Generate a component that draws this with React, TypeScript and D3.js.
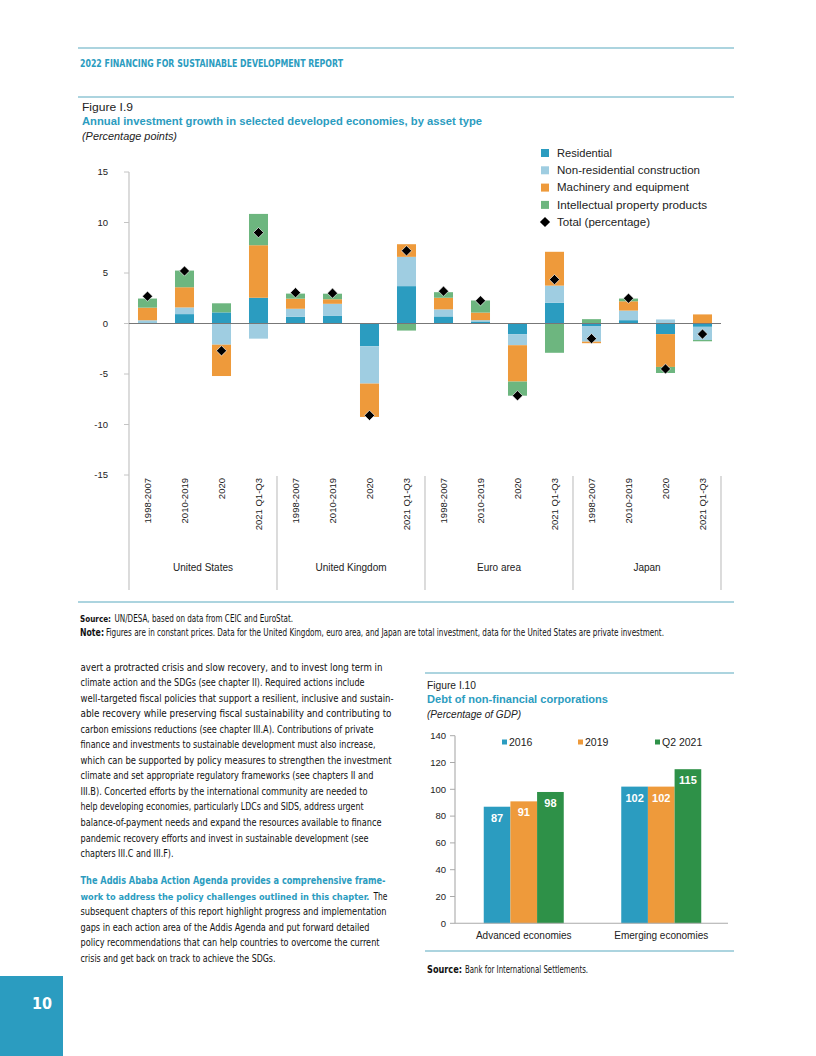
import * as React from 'react';
import * as d3 from 'd3';

// Figure I.9 data
const assetTypes = ['Residential', 'Non-residential construction', 'Machinery and equipment', 'Intellectual property products'];
const economies = ['United States', 'United Kingdom', 'Euro area', 'Japan'];
const periods = ['1998-2007', '2010-2019', '2020', '2021 Q1-Q3'];
const residential = [0.1, 0.93, 1.1, 2.55, 0.66, 0.75, -2.25, 3.7, 0.7, 0.2, -1.05, 2.05, -0.25, 0.33, -1.05, -0.33];
const nonResidential = [0.22, 0.66, -2.1, -1.5, 0.8, 1.2, -3.7, 2.9, 0.7, 0.13, -1.1, 1.7, -1.55, 0.95, 0.4, -1.3];
const machinery = [1.25, 2.0, -3.1, 5.2, 1.0, 0.45, -3.3, 1.25, 1.15, 0.75, -3.6, 3.35, -0.15, 0.92, -3.25, 0.9];
const ipp = [0.9, 1.65, 0.9, 3.1, 0.5, 0.55, 0, -0.7, 0.55, 1.2, -1.4, -2.9, 0.43, 0.27, -0.6, -0.13];
const total = [2.7, 5.2, -2.7, 9.0, 3.05, 3.0, -9.1, 7.2, 3.2, 2.25, -7.15, 4.35, -1.5, 2.5, -4.5, -1.05];
const yTicks1 = [15, 10, 5, 0, -5, -10, -15];

// Figure I.10 data
const groups2 = ['Advanced economies', 'Emerging economies'];
const years2 = ['2016', '2019', 'Q2 2021'];
const debt2016 = [87, 102];
const debt2019 = [91, 102];
const debtQ22021 = [98, 115];
const yTicks2 = [0, 20, 40, 60, 80, 100, 120, 140];

const bodyPara1: [string, number][] = [
  ['avert a protracted crisis and slow recovery, and to invest long term in', 302],
  ['climate action and the SDGs (see chapter II). Required actions include', 284],
  ['well-targeted fiscal policies that support a resilient, inclusive and sustain-', 313],
  ['able recovery while preserving fiscal sustainability and contributing to', 311],
  ['carbon emissions reductions (see chapter III.A). Contributions of private', 293],
  ['finance and investments to sustainable development must also increase,', 295],
  ['which can be supported by policy measures to strengthen the investment', 311],
  ['climate and set appropriate regulatory frameworks (see chapters II and', 293],
  ['III.B). Concerted efforts by the international community are needed to', 287],
  ['help developing economies, particularly LDCs and SIDS, address urgent', 283],
  ['balance-of-payment needs and expand the resources available to finance', 301],
  ['pandemic recovery efforts and invest in sustainable development (see', 288],
  ['chapters III.C and III.F).', 93],
];
const bodyPara2: [string, number][] = [
  ['subsequent chapters of this report highlight progress and implementation', 306],
  ['gaps in each action area of the Addis Agenda and put forward detailed', 289],
  ['policy recommendations that can help countries to overcome the current', 299],
  ['crisis and get back on track to achieve the SDGs.', 195],
];

const colors1 = ['#2b9cc0', '#9fcde1', '#ee9a3b', '#6db67f'];
const colors2 = ['#2b9cc0', '#ee9a3b', '#2e9148'];
const teal = '#2b9cc0';
const rule = '#5ba9c0';
const narrow = '"Liberation Sans Narrow", "DejaVu Sans Condensed", sans-serif';
const sans = '"Liberation Sans", Arial, sans-serif';

function T(props: any) {
  const { w, children, ...rest } = props;
  return (
    <text textLength={w} lengthAdjust={w ? 'spacingAndGlyphs' : undefined} {...rest}>
      {children}
    </text>
  );
}

function InvestmentChart() {
  const keys = economies.flatMap((e) => periods.map((p) => `${e}|${p}`));
  const rows = keys.map((k, i) => ({
    key: k,
    [assetTypes[0]]: residential[i],
    [assetTypes[1]]: nonResidential[i],
    [assetTypes[2]]: machinery[i],
    [assetTypes[3]]: ipp[i],
  }));
  const series = d3.stack<any>().keys(assetTypes).offset(d3.stackOffsetDiverging)(rows);

  const x = d3.scaleBand().domain(keys).range([129, 721]).paddingInner(0.486).paddingOuter(0.243);
  const y = d3.scaleLinear().domain([-15, 15]).range([475, 172]);
  const groupX = d3.scaleBand().domain(economies).range([129, 721]);
  const diamond = d3.symbol().type(d3.symbolSquare).size(52)()!;

  return (
    <g>
      {/* axis */}
      <line x1={129} x2={129} y1={y(15)} y2={590} stroke="#c4c4c4" strokeWidth={1.2} />
      {yTicks1.map((t) => (
        <g key={t} transform={`translate(0,${y(t)})`}>
          <line x1={124} x2={129} stroke="#c4c4c4" />
          <text x={108} dy="0.35em" textAnchor="end" fontSize={9.5} fontFamily={sans} fill="#222">{t}</text>
        </g>
      ))}
      {economies.map((e) => (
        <g key={e}>
          <line x1={groupX(e)! + groupX.bandwidth()} x2={groupX(e)! + groupX.bandwidth()} y1={476} y2={590} stroke="#c4c4c4" strokeWidth={1.2} />
          <text x={groupX(e)! + groupX.bandwidth() / 2} y={571} textAnchor="middle" fontSize={10} fontFamily={sans} fill="#222">{e}</text>
        </g>
      ))}
      {keys.map((k) => (
        <text key={k} transform={`translate(${x(k)! + x.bandwidth() / 2 + 3.5},478) rotate(-90)`} textAnchor="end" fontSize={9.5} fontFamily={sans} fill="#222">
          {k.split('|')[1]}
        </text>
      ))}

      {/* bars */}
      {series.map((s, si) => (
        <g key={s.key} fill={colors1[si]}>
          {s.map((d: any, i: number) => (
            <rect key={i} x={x(keys[i])} width={x.bandwidth()} y={y(Math.max(d[0], d[1]))} height={Math.abs(y(d[0]) - y(d[1]))} />
          ))}
        </g>
      ))}
      <line x1={129} x2={721} y1={y(0)} y2={y(0)} stroke="#777" strokeWidth={1} />
      {total.map((v, i) => (
        <path key={i} d={diamond} transform={`translate(${x(keys[i])! + x.bandwidth() / 2},${y(v)}) rotate(45)`} fill="#000" stroke="#fff" strokeWidth={0.6} />
      ))}

      {/* legend */}
      {assetTypes.map((a, i) => (
        <g key={a} transform={`translate(541,${153 + i * 17.3})`}>
          <rect x={0} y={-4} width={8} height={8} fill={colors1[i]} />
          <T x={16} dy="0.35em" fontSize={10.5} fontFamily={sans} fill="#222" w={[55, 143, 132, 150][i]}>{a}</T>
        </g>
      ))}
      <g transform={`translate(545,222)`}>
        <path d={diamond} transform="rotate(45)" fill="#000" />
        <T x={12} dy="0.35em" fontSize={10.5} fontFamily={sans} fill="#222" w={93}>Total (percentage)</T>
      </g>
    </g>
  );
}

function DebtChart() {
  const values = [debt2016, debt2019, debtQ22021];
  const x0 = d3.scaleBand().domain(groups2).range([455, 730]);
  const inner = 80;
  const x1 = d3.scaleBand().domain(years2).range([(x0.bandwidth() - inner) / 2, (x0.bandwidth() + inner) / 2]);
  const y = d3.scaleLinear().domain([0, 140]).range([923.3, 735.7]);

  return (
    <g>
      <line x1={455} x2={455} y1={y(140)} y2={y(0)} stroke="#aaa" strokeWidth={1.1} />
      {yTicks2.map((t) => (
        <g key={t} transform={`translate(0,${y(t)})`}>
          <line x1={450} x2={455} stroke="#aaa" />
          <text x={446} dy="0.35em" textAnchor="end" fontSize={9.5} fontFamily={sans} fill="#222">{t}</text>
        </g>
      ))}
      {groups2.map((g, gi) => (
        <g key={g} transform={`translate(${x0(g)},0)`}>
          {years2.map((yr, yi) => {
            const v = values[yi][gi];
            return (
              <g key={yr}>
                <rect x={x1(yr)} width={x1.bandwidth()} y={y(v)} height={y(0) - y(v)} fill={colors2[yi]} />
                <text x={x1(yr)! + x1.bandwidth() / 2} y={y(v) + 15} textAnchor="middle" fontSize={11} fontWeight="bold" fontFamily={sans} fill="#fff">{v}</text>
              </g>
            );
          })}
          <text x={x0.bandwidth() / 2} y={939} textAnchor="middle" fontSize={10} fontFamily={sans} fill="#222">{g}</text>
        </g>
      ))}
      <line x1={455} x2={728} y1={y(0)} y2={y(0)} stroke="#aaa" strokeWidth={1.1} />
      {years2.map((yr, i) => (
        <g key={yr} transform={`translate(${[502, 578, 655][i]},742)`}>
          <rect x={0} y={-2.5} width={5} height={5} fill={colors2[i]} />
          <text x={7} dy="0.35em" fontSize={10.5} fontFamily={sans} fill="#222">{yr}</text>
        </g>
      ))}
    </g>
  );
}

export default function App() {
  const lh = 15.55;
  const bodySize = 10.5;
  return (
    <svg width={816} height={1056} style={{ position: 'absolute', left: 0, top: 0, background: '#fff' }}>
      <rect width={816} height={1056} fill="#fff" />
      {/* page header */}
      <line x1={78} x2={734} y1={48} y2={48} stroke={rule} strokeWidth={1.2} />
      <T x={80} y={66.5} w={263} fontSize={11} fontWeight="bold" fontFamily={narrow} fill={teal}>2022 FINANCING FOR SUSTAINABLE DEVELOPMENT REPORT</T>

      {/* Figure I.9 */}
      <line x1={78} x2={734} y1={97} y2={97} stroke={rule} strokeWidth={1.2} />
      <T x={82} y={111} w={51} fontSize={11} fontFamily={sans} fill="#222">Figure I.9</T>
      <T x={82} y={125} w={400} fontSize={11.5} fontWeight="bold" fontFamily={sans} fill={teal}>Annual investment growth in selected developed economies, by asset type</T>
      <T x={82} y={140} w={95} fontSize={11} fontStyle="italic" fontFamily={sans} fill="#222">(Percentage points)</T>
      <InvestmentChart />
      <line x1={78} x2={734} y1={602} y2={602} stroke={rule} strokeWidth={1.2} />
      <T x={80} y={622} w={31} fontSize={9.5} fontWeight="bold" fontFamily={narrow} fill="#111">Source:</T>
      <T x={114.5} y={622} w={178.5} fontSize={10} fontFamily={narrow} fill="#111">UN/DESA, based on data from CEIC and EuroStat.</T>
      <T x={80} y={635.5} w={24} fontSize={10} fontWeight="bold" fontFamily={narrow} fill="#111">Note:</T>
      <T x={106} y={635.5} w={558} fontSize={10} fontFamily={narrow} fill="#111">Figures are in constant prices. Data for the United Kingdom, euro area, and Japan are total investment, data for the United States are private investment.</T>

      {/* body text */}
      {bodyPara1.map(([s, w], i) => (
        <T key={i} x={80.5} y={670.5 + i * lh} w={w} fontSize={bodySize} fontFamily={narrow} fill="#111">{s}</T>
      ))}
      <T x={80.5} y={884} w={305} fontSize={bodySize} fontWeight="bold" fontFamily={narrow} fill={teal}>The Addis Ababa Action Agenda provides a comprehensive frame-</T>
      <T x={80.5} y={884 + lh} w={289} fontSize={9.1} fontWeight="bold" fontFamily={narrow} fill={teal}>work to address the policy challenges outlined in this chapter.</T>
      <T x={373.5} y={884 + lh} w={14} fontSize={bodySize} fontFamily={narrow} fill="#111">The</T>
      {bodyPara2.map(([s, w], i) => (
        <T key={i} x={80.5} y={884 + (i + 2) * lh} w={w} fontSize={bodySize} fontFamily={narrow} fill="#111">{s}</T>
      ))}

      {/* Figure I.10 */}
      <line x1={425} x2={734} y1={673} y2={673} stroke={rule} strokeWidth={1.2} />
      <T x={427} y={689} w={49} fontSize={11} fontFamily={sans} fill="#222">Figure I.10</T>
      <T x={427} y={702.5} w={181} fontSize={11.5} fontWeight="bold" fontFamily={sans} fill={teal}>Debt of non-financial corporations</T>
      <T x={427} y={718} w={94} fontSize={11} fontStyle="italic" fontFamily={sans} fill="#222">(Percentage of GDP)</T>
      <DebtChart />
      <line x1={425} x2={734} y1={951} y2={951} stroke={rule} strokeWidth={1.2} />
      <T x={427} y={973} w={35} fontSize={10} fontWeight="bold" fontFamily={narrow} fill="#111">Source:</T>
      <T x={465} y={973} w={123} fontSize={10} fontFamily={narrow} fill="#111">Bank for International Settlements.</T>

      {/* page number */}
      <rect x={0} y={976} width={63} height={80} fill={teal} />
      <text x={42} y={1009} textAnchor="middle" fontSize={16} fontWeight="bold" fontFamily={narrow} fill="#fff">10</text>
    </svg>
  );
}
